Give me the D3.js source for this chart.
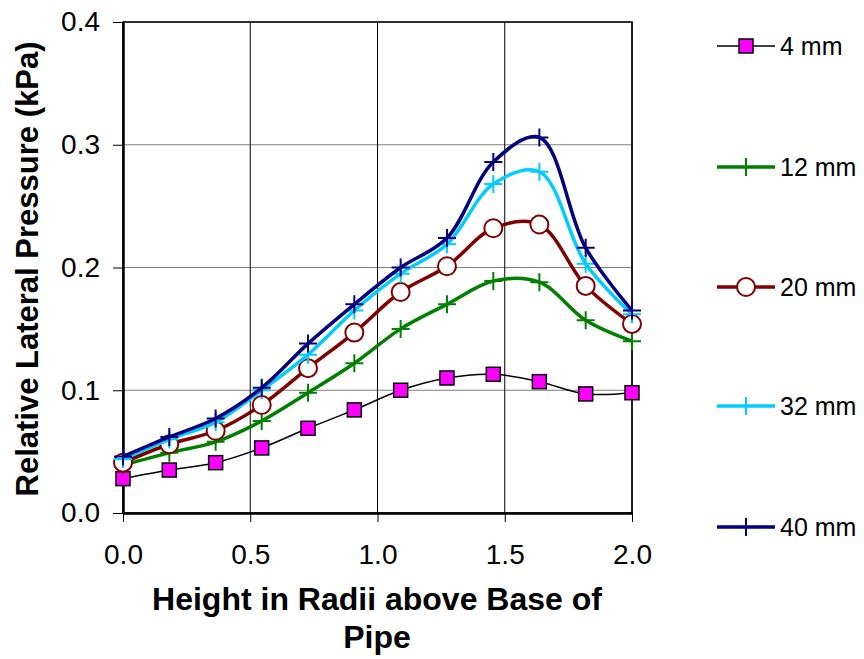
<!DOCTYPE html>
<html>
<head>
<meta charset="utf-8">
<script src="https://cdn.jsdelivr.net/npm/d3@7"></script>
<style>
  body { margin: 0; background: #fff; }
  svg { font-family: "Liberation Sans", Arial, sans-serif; }
</style>
</head>
<body>
<svg width="864" height="659"></svg>
<script>
// data
const heights = [0, 0.182, 0.364, 0.545, 0.727, 0.909, 1.091, 1.273, 1.455, 1.636, 1.818, 2.0];
const mm4  = [0.028, 0.035, 0.041, 0.053, 0.069, 0.084, 0.100, 0.110, 0.113, 0.107, 0.097, 0.098];
const mm12 = [0.039, 0.049, 0.058, 0.075, 0.098, 0.122, 0.150, 0.170, 0.189, 0.188, 0.157, 0.140];
const mm20 = [0.041, 0.056, 0.067, 0.088, 0.118, 0.147, 0.180, 0.201, 0.232, 0.235, 0.185, 0.154];
const mm32 = [0.044, 0.060, 0.074, 0.100, 0.129, 0.165, 0.195, 0.219, 0.268, 0.278, 0.203, 0.162];
const mm40 = [0.046, 0.062, 0.077, 0.102, 0.138, 0.170, 0.200, 0.224, 0.286, 0.306, 0.216, 0.165];
const seriesNames = ['4 mm', '12 mm', '20 mm', '32 mm', '40 mm'];
const xTicks = [0, 0.5, 1.0, 1.5, 2.0];
const yTicks = [0, 0.1, 0.2, 0.3, 0.4];

const series = [
  { name: seriesNames[0], values: mm4,  color: '#000000', width: 1.5, marker: 'square' },
  { name: seriesNames[1], values: mm12, color: '#008000', width: 3.5, marker: 'plus' },
  { name: seriesNames[2], values: mm20, color: '#800000', width: 3.5, marker: 'circle' },
  { name: seriesNames[3], values: mm32, color: '#00ccff', width: 3.5, marker: 'plus' },
  { name: seriesNames[4], values: mm40, color: '#000080', width: 3.5, marker: 'plus' }
];

const svg = d3.select('svg');

// plot area
const plotL = 123, plotR = 632, plotT = 22, plotB = 513;
const x = d3.scaleLinear().domain([0, 2]).range([plotL, plotR]);
const y = d3.scaleLinear().domain([0, 0.4]).range([plotB, plotT]);

//  gridlines
svg.append('g')
  .selectAll('line')
  .data(yTicks.slice(1))
  .join('line')
  .attr('x1', plotL).attr('x2', plotR)
  .attr('y1', d => y(d)).attr('y2', d => y(d))
  .attr('stroke', '#808080').attr('stroke-width', 1);

svg.append('g')
  .selectAll('line')
  .data(xTicks.slice(1))
  .join('line')
  .attr('x1', d => x(d)).attr('x2', d => x(d))
  .attr('y1', plotT).attr('y2', plotB)
  .attr('stroke', '#000').attr('stroke-width', 1);

//  plot border
svg.append('rect')
  .attr('x', plotL).attr('y', plotT)
  .attr('width', plotR - plotL).attr('height', plotB - plotT)
  .attr('fill', 'none').attr('stroke', '#000').attr('stroke-width', 1.5);

//  axes
const yAxis = svg.append('g')
  .attr('transform', `translate(${plotL},0)`)
  .call(d3.axisLeft(y).tickValues(yTicks).tickFormat(d3.format('.1f')).tickSizeInner(10).tickSizeOuter(0).tickPadding(13));
const xAxis = svg.append('g')
  .attr('transform', `translate(0,${plotB})`)
  .call(d3.axisBottom(x).tickValues(xTicks).tickFormat(d3.format('.1f')).tickSizeInner(9).tickSizeOuter(0).tickPadding(22));

[yAxis, xAxis].forEach(a => {
  a.select('.domain').attr('stroke', '#000').attr('stroke-width', 2.5);
  a.selectAll('.tick line').attr('stroke', '#000').attr('stroke-width', 1);
  a.selectAll('.tick text')
    .attr('fill', '#000')
    .style('font-family', '"Liberation Sans", Arial, sans-serif')
    .style('font-size', '28px');
});

//  axis titles
svg.append('text')
  .attr('transform', 'translate(38,269) rotate(-90)')
  .attr('text-anchor', 'middle')
  .style('font-size', '31px').style('font-weight', 'bold')
  .text('Relative Lateral Pressure (kPa)');

svg.append('text')
  .attr('x', 377).attr('y', 610)
  .attr('text-anchor', 'middle')
  .style('font-size', '32px').style('font-weight', 'bold')
  .text('Height in Radii above Base of');
svg.append('text')
  .attr('x', 377).attr('y', 648)
  .attr('text-anchor', 'middle')
  .style('font-size', '32px').style('font-weight', 'bold')
  .text('Pipe');

//  markers
function drawMarker(g, type, color, cx, cy) {
  if (type === 'square') {
    g.append('rect')
      .attr('x', cx - 7).attr('y', cy - 7)
      .attr('width', 14).attr('height', 14)
      .attr('fill', '#ff00ff').attr('stroke', '#000').attr('stroke-width', 1.5);
  } else if (type === 'circle') {
    g.append('circle')
      .attr('cx', cx).attr('cy', cy).attr('r', 9)
      .attr('fill', '#fff').attr('stroke', color).attr('stroke-width', 2);
  } else {
    g.append('path')
      .attr('d', `M${cx - 9},${cy}H${cx + 9}M${cx},${cy - 9}V${cy + 9}`)
      .attr('stroke', color).attr('stroke-width', 2).attr('fill', 'none');
  }
}

const line = d3.line()
  .x((d, i) => x(heights[i]))
  .y(d => y(d))
  .curve(d3.curveCatmullRom.alpha(0.5));

const plot = svg.append('g');
series.forEach(s => {
  const g = plot.append('g');
  g.append('path')
    .attr('d', line(s.values))
    .attr('fill', 'none')
    .attr('stroke', s.color)
    .attr('stroke-width', s.width)
    .attr('stroke-linejoin', 'round');
  s.values.forEach((v, i) => drawMarker(g, s.marker, s.color, x(heights[i]), y(v)));
});

//  legend
const legendY = [46, 167, 287, 406, 527];
const legend = svg.append('g');
series.forEach((s, i) => {
  const ly = legendY[i];
  legend.append('line')
    .attr('x1', 717).attr('x2', 775)
    .attr('y1', ly).attr('y2', ly)
    .attr('stroke', s.color).attr('stroke-width', s.width);
  drawMarker(legend, s.marker, s.color, 746, ly);
  legend.append('text')
    .attr('x', 780).attr('y', ly + 9)
    .style('font-size', '25px')
    .text(s.name);
});
</script>
</body>
</html>
